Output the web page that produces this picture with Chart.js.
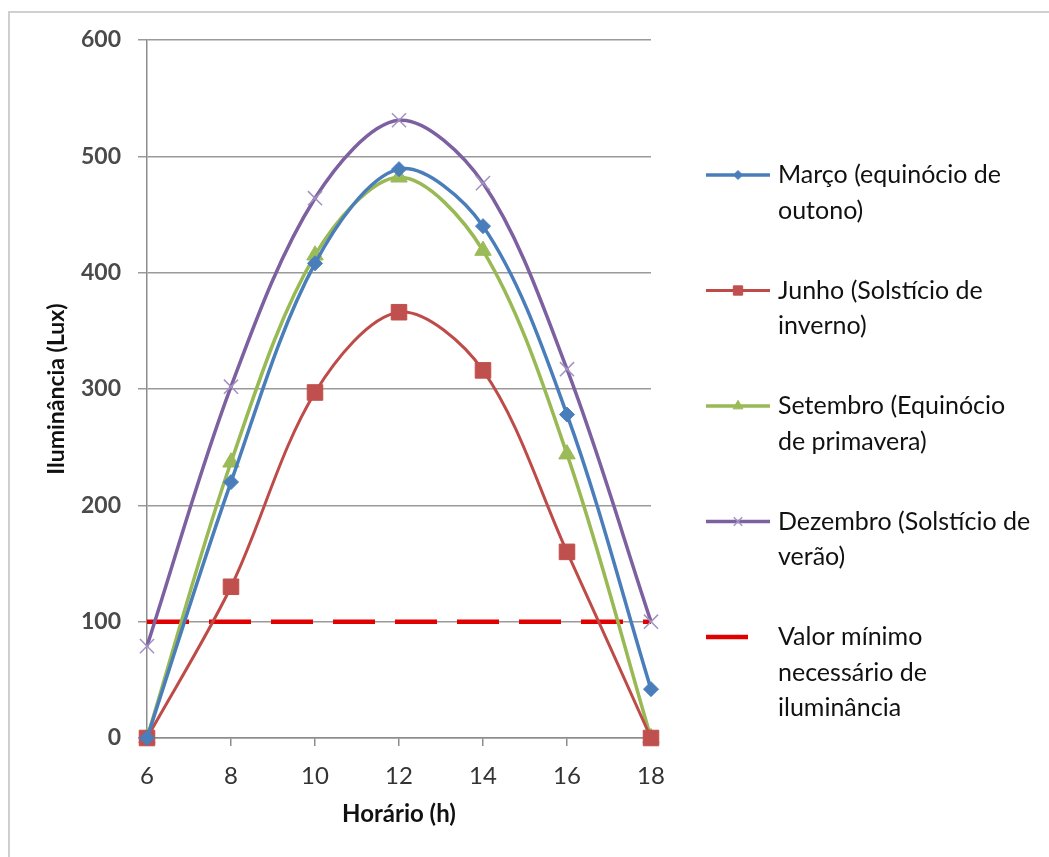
<!DOCTYPE html>
<html>
<head>
<meta charset="utf-8">
<script src="https://cdn.jsdelivr.net/npm/chart.js@4"></script>
<style>
  html, body { margin: 0; padding: 0; background: #fff; }
  #wrap { position: relative; width: 1049px; height: 857px; overflow: hidden; }
  #frame { position: absolute; left: 8px; top: 11px; width: 1100px; height: 900px;
           border-left: 2px solid #cfcfcf; border-top: 2px solid #cfcfcf; }
  canvas { position: absolute; left: 0; top: 0; }
</style>
</head>
<body>
<div id="wrap">
  <div id="frame"></div>
  <canvas id="myChart" width="1049" height="857"></canvas>
</div>
<script>
// data
const hours = [6, 8, 10, 12, 14, 16, 18];
const marco = [0, 220, 408, 489, 440, 278, 42];
const junho = [0, 130, 297, 366, 316, 160, 0];
const setembro = [0, 237, 415, 482, 419, 244, 0];
const dezembro = [79, 302, 464, 531, 477, 317, 100];
const minimo = [100, 100, 100, 100, 100, 100, 100];
const yTicks = [0, 100, 200, 300, 400, 500, 600];

const legendLabels = [
    ['Março (equinócio de', 'outono)'],
    ['Junho (Solstício de', 'inverno)'],
    ['Setembro (Equinócio', 'de primavera)'],
    ['Dezembro (Solstício de', 'verão)'],
    ['Valor mínimo', 'necessário de', 'iluminância']
];

const FONT = 'Lato, "Open Sans", sans-serif';
Chart.defaults.font.family = FONT;

function pts(values) {
    return hours.map((h, i) => ({x: h, y: values[i]}));
}

// legend drawn on the right side, next to the plot
const sideLegend = {
    id: 'sideLegend',
    afterDraw(chart) {
        const ctx = chart.ctx;
        const x0 = 706, lineLen = 64, textX = 778;
        const rowTop = 175, rowStep = 115.5, lineH = 35.5;
        ctx.save();
        chart.data.datasets.forEach((ds, i) => {
            const y = rowTop + i * rowStep;
            ctx.strokeStyle = ds.borderColor;
            ctx.lineWidth = ds.borderWidth;
            ctx.setLineDash(ds.borderDash || []);
            ctx.beginPath();
            ctx.moveTo(x0, y);
            ctx.lineTo(x0 + (ds.borderDash ? ds.borderDash[0] : lineLen), y);
            ctx.stroke();
            ctx.setLineDash([]);
            if (ds.pointStyle) {
                ctx.fillStyle = ds.pointBackgroundColor;
                ctx.strokeStyle = ds.pointBorderColor;
                ctx.lineWidth = ds.pointBorderWidth;
                Chart.helpers.drawPoint(ctx, {
                    pointStyle: ds.pointStyle,
                    radius: ds.pointRadius * 0.6,
                    rotation: 0,
                    borderWidth: ds.pointBorderWidth
                }, x0 + lineLen / 2, y);
            }
            ctx.fillStyle = '#111';
            ctx.font = '25px ' + FONT;
            ctx.textBaseline = 'middle';
            ctx.textAlign = 'left';
            legendLabels[i].forEach((t, k) => {
                ctx.fillText(t, textX, y + k * lineH);
            });
        });
        ctx.restore();
    }
};

const ctx = document.getElementById('myChart').getContext('2d');
const myChart = new Chart(ctx, {
    type: 'line',
    data: {
        datasets: [{
            label: legendLabels[0].join(' '),
            data: pts(marco),
            borderColor: '#4a7ebb',
            borderWidth: 3.5,
            pointStyle: 'rectRot',
            pointRadius: 7.5,
            pointBackgroundColor: '#4a7ebb',
            pointBorderColor: '#4a7ebb',
            pointBorderWidth: 1,
            tension: 0.33
        }, {
            label: legendLabels[1].join(' '),
            data: pts(junho),
            borderColor: '#be4b48',
            borderWidth: 3,
            pointStyle: 'rect',
            pointRadius: 11,
            pointBackgroundColor: '#c0504d',
            pointBorderColor: '#c0504d',
            pointBorderWidth: 1,
            tension: 0.33
        }, {
            label: legendLabels[2].join(' '),
            data: pts(setembro),
            borderColor: '#98b954',
            borderWidth: 3.5,
            pointStyle: 'triangle',
            pointRadius: 9.5,
            pointBackgroundColor: '#9bbb59',
            pointBorderColor: '#9bbb59',
            pointBorderWidth: 1,
            tension: 0.33
        }, {
            label: legendLabels[3].join(' '),
            data: pts(dezembro),
            borderColor: '#7d60a0',
            borderWidth: 3.5,
            pointStyle: 'crossRot',
            pointRadius: 10,
            pointBackgroundColor: '#a08cc0',
            pointBorderColor: '#a491c2',
            pointBorderWidth: 1.5,
            tension: 0.33
        }, {
            label: legendLabels[4].join(' '),
            data: pts(minimo),
            borderColor: '#e10000',
            borderWidth: 4.5,
            borderDash: [42, 20],
            pointRadius: 0,
            tension: 0
        }]
    },
    options: {
        responsive: false,
        animation: false,
        layout: {padding: {left: 0, top: 40, right: 398, bottom: 0}},
        datasets: {line: {clip: false}},
        plugins: {legend: {display: false}, tooltip: {enabled: false}},
        scales: {
            x: {
                type: 'linear',
                min: 6, max: 18,
                afterFit: (s) => { s.height = 119; },
                afterBuildTicks: (s) => { s.ticks = hours.map(v => ({value: v})); },
                grid: {drawOnChartArea: false, drawTicks: true, tickLength: 8, color: '#8c8c8c', lineWidth: 1.5},
                border: {display: true, color: '#8c8c8c', width: 1.5},
                ticks: {color: '#333', font: {size: 24}, padding: 16},
                title: {display: true, text: 'Horário (h)', color: '#111',
                        font: {size: 24, weight: 'bold'}, padding: {top: 0, bottom: 28}}
            },
            y: {
                min: 0, max: 600,
                afterFit: (s) => { s.width = 147; },
                afterBuildTicks: (s) => { s.ticks = yTicks.map(v => ({value: v})); },
                grid: {drawTicks: true, tickLength: 9, color: '#9a9a9a', lineWidth: 1.5},
                border: {display: true, color: '#8c8c8c', width: 1.5},
                ticks: {color: '#4a4a4a', font: {size: 23, weight: 'bold'}, padding: 17},
                title: {display: true, text: 'Iluminância (Lux)', color: '#111',
                        font: {size: 23, weight: 'bold'}, padding: {top: 43, bottom: 0}}
            }
        }
    },
    plugins: [sideLegend]
});
</script>
</body>
</html>
